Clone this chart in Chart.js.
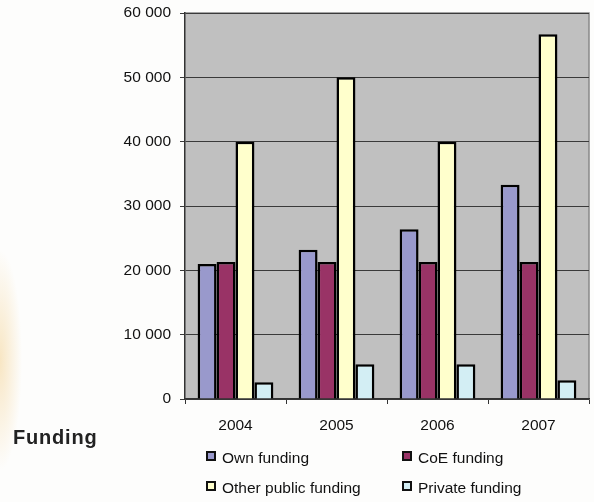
<!DOCTYPE html>
<html>
<head>
<meta charset="utf-8">
<script src="https://cdn.jsdelivr.net/npm/chart.js@4.4.0/dist/chart.umd.min.js"></script>
<style>
  html, body { margin: 0; padding: 0; }
  body {
    width: 594px; height: 502px; position: relative; overflow: hidden;
    background: radial-gradient(ellipse 22px 110px at 0px 360px, rgba(240,195,110,0.4), rgba(255,255,255,0) 100%), #fdfdfc;
    font-family: "Liberation Sans", Arial, sans-serif;
  }
  #wrap { position: absolute; left: 0; top: 0; width: 594px; height: 502px; }
  #title { position: absolute; left: 13px; top: 426px; font-weight: bold; font-size: 20px; letter-spacing: 0.8px; color: #222; }
  .leg { position: absolute; font-size: 15.5px; color: #111; white-space: nowrap; }
  .leg i { display: inline-block; width: 6px; height: 6px; border: 2px solid #111; margin-right: 6px; vertical-align: 2px; }
</style>
</head>
<body>
<div id="wrap"><canvas id="chart" width="594" height="502"></canvas></div>
<div id="title">Funding</div>
<div id="legend"></div>
<script>
var years = ['2004', '2005', '2006', '2007'];
var seriesNames = ['Own funding', 'CoE funding', 'Other public funding', 'Private funding'];
var ownFunding = [21000, 23200, 26400, 33300];
var coeFunding = [21300, 21300, 21300, 21300];
var otherPublic = [40000, 50000, 40000, 56700];
var privateFunding = [2600, 5400, 5400, 2900];
var colors = ['#9999cc', '#993366', '#ffffcc', '#d3eef4'];

var plotBg = {
    id: 'plotBg',
    beforeDraw: function(chart) {
        var a = chart.chartArea, c = chart.ctx;
        c.save();
        c.fillStyle = '#c0c0c0';
        c.fillRect(a.left, a.top, a.right - a.left, a.bottom - a.top);
        c.strokeStyle = '#888';
        c.lineWidth = 1.5;
        c.beginPath();
        c.moveTo(a.left, a.top);
        c.lineTo(a.right, a.top);
        c.lineTo(a.right, a.bottom);
        c.stroke();
        c.restore();
    }
};

var data = [ownFunding, coeFunding, otherPublic, privateFunding];
var datasets = [];
for (var i = 0; i < data.length; i++) {
    datasets.push({
        label: seriesNames[i],
        data: data[i],
        backgroundColor: colors[i],
        borderColor: '#000',
        borderWidth: 2.5,
        categoryPercentage: 0.75,
        barPercentage: 1.0
    });
}

var chart = new Chart(document.getElementById('chart'), {
    type: 'bar',
    data: { labels: years, datasets: datasets },
    plugins: [plotBg],
    options: {
        responsive: false,
        animation: false,
        layout: { padding: { left: 0, top: 13, right: 5, bottom: 0 } },
        plugins: { legend: { display: false }, tooltip: { enabled: false } },
        scales: {
            x: {
                grid: { drawOnChartArea: false, color: '#333', tickLength: 5, offset: true },
                border: { color: '#333', width: 1.5 },
                ticks: { color: '#111', font: { family: 'Liberation Sans', size: 15.5 }, padding: 12 },
                afterFit: function(s) { s.height = 103; }
            },
            y: {
                min: 0, max: 60000,
                grid: { color: '#3a3a3a', lineWidth: 1, tickLength: 5 },
                border: { color: '#333', width: 1.5 },
                ticks: {
                    stepSize: 10000, color: '#111', padding: 9,
                    font: { family: 'Liberation Sans', size: 15.5 },
                    callback: function(v) { return String(v).replace(/\B(?=(\d{3})+(?!\d))/g, ' '); }
                },
                afterFit: function(s) { s.width = 185; s.paddingTop = 0; s.paddingBottom = 0; }
            }
        }
    }
});

// legend, two columns
var legPos = [[206, 449], [402, 449], [206, 479], [402, 479]];
var legHtml = '';
for (var j = 0; j < seriesNames.length; j++) {
    legHtml += '<div class="leg" style="left:' + legPos[j][0] + 'px;top:' + legPos[j][1] + 'px"><i style="background:' + colors[j] + '"></i>' + seriesNames[j] + '</div>';
}
document.getElementById('legend').innerHTML = legHtml;
</script>
</body>
</html>
